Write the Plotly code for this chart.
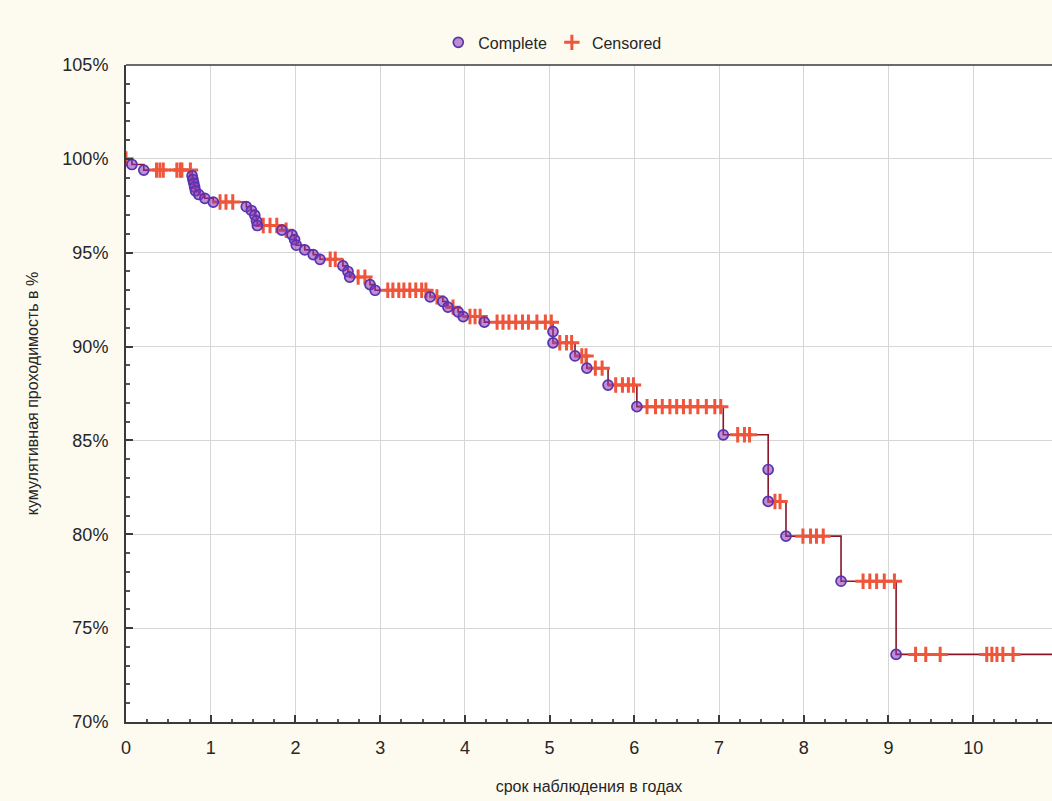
import plotly.graph_objects as go

# Kaplan-Meier estimate: times of observed failures (years) and survival after each one (%)
event_times = [0.07, 0.21, 0.78, 0.79, 0.80, 0.81, 0.82, 0.86, 0.93, 1.03,
               1.42, 1.48, 1.52, 1.54, 1.55, 1.84, 1.96, 1.99, 2.01, 2.11,
               2.21, 2.29, 2.56, 2.62, 2.64, 2.88, 2.94, 3.59, 3.74, 3.80,
               3.92, 3.98, 4.23, 5.04, 5.04, 5.30, 5.44, 5.69, 6.03, 7.05,
               7.58, 7.58, 7.79, 8.44, 9.09]
event_surv = [99.7, 99.4, 99.1, 98.9, 98.7, 98.5, 98.3, 98.1, 97.9, 97.7,
              97.45, 97.25, 97.0, 96.7, 96.45, 96.2, 95.95, 95.7, 95.4, 95.15,
              94.9, 94.65, 94.3, 94.0, 93.7, 93.3, 93.0, 92.65, 92.4, 92.1,
              91.85, 91.6, 91.3, 90.8, 90.2, 89.5, 88.85, 87.95, 86.8, 85.3,
              83.45, 81.75, 79.9, 77.5, 73.6]

# Censored observations (years)
censored_times = [0.0, 0.36, 0.40, 0.44, 0.60, 0.64, 0.66, 0.76,
                  1.11, 1.18, 1.26, 1.62, 1.70, 1.78, 1.89,
                  2.41, 2.47, 2.74, 2.82,
                  3.09, 3.15, 3.22, 3.28, 3.35, 3.42, 3.49, 3.54, 3.67, 3.86,
                  4.06, 4.12, 4.18, 4.38, 4.45, 4.52, 4.60, 4.68, 4.75, 4.85, 4.95, 5.02,
                  5.12, 5.20, 5.26, 5.38, 5.43, 5.54, 5.62,
                  5.78, 5.86, 5.93, 5.99,
                  6.15, 6.25, 6.33, 6.42, 6.50, 6.58, 6.66, 6.75, 6.85, 6.95, 7.02,
                  7.22, 7.30, 7.36, 7.66, 7.72,
                  7.99, 8.08, 8.15, 8.23,
                  8.70, 8.78, 8.86, 8.95, 9.07,
                  9.32, 9.44, 9.61,
                  10.16, 10.22, 10.28, 10.35, 10.47]

x_ticks = list(range(0, 11))
y_ticks = [70, 75, 80, 85, 90, 95, 100, 105]
x_title = "срок наблюдения в годах"
y_title = "кумулятивная проходимость в %"

X_MAX = 10.93


def surv_at(t):
    """Survival level of the step function at time t."""
    level = 100.0
    for et, s in zip(event_times, event_surv):
        if et <= t:
            level = s
    return level


cens_surv = [surv_at(t) for t in censored_times]

step_x = [0.0] + event_times + [X_MAX]
step_y = [100.0] + event_surv + [event_surv[-1]]

fig = go.Figure()

fig.add_trace(go.Scatter(
    x=step_x, y=step_y, mode="lines", line_shape="hv",
    line=dict(color="#8a1428", width=1.6),
    showlegend=False, hoverinfo="skip",
))

fig.add_trace(go.Scatter(
    x=censored_times, y=cens_surv, mode="markers", name="Censored",
    marker=dict(symbol="cross-thin-open", size=11,
                line=dict(color="#ff0000", width=3)),
))

fig.add_trace(go.Scatter(
    x=event_times, y=event_surv, mode="markers", name="Complete",
    marker=dict(symbol="circle", size=10,
                color="rgba(140,50,175,0.55)",
                line=dict(color="#5535b0", width=1.7)),
))

text_col = "#262626"
font = "Arial, Liberation Sans, sans-serif"

fig.update_layout(
    width=1052, height=801,
    margin=dict(l=126, r=0, t=65, b=79, autoexpand=False),
    paper_bgcolor="#fdfaf0",
    plot_bgcolor="#ffffff",
    font=dict(family=font, color=text_col, size=16),
    showlegend=True,
    legend=dict(
        orientation="h", traceorder="reversed",
        xref="container", yref="container",
        x=0.525, xanchor="center", y=0.947, yanchor="middle",
        font=dict(size=16, color=text_col), bgcolor="rgba(0,0,0,0)",
        itemwidth=30,
    ),
    xaxis=dict(
        range=[0, X_MAX], tickvals=x_ticks, ticktext=[str(v) for v in x_ticks],
        showgrid=True, gridcolor="#d6d6d6", gridwidth=1,
        showline=True, linecolor="#3a3a3a", linewidth=2,
        ticks="inside", ticklen=7, tickwidth=1.5, tickcolor="#3a3a3a",
        minor=dict(dtick=0.25, tick0=0, ticks="inside", ticklen=3,
                   tickcolor="#555555", showgrid=False),
        tickfont=dict(size=18, color=text_col),
        ticklabelstandoff=8,
        title=dict(text=x_title, font=dict(size=16, color=text_col), standoff=24),
        zeroline=False,
    ),
    yaxis=dict(
        range=[70, 105], tickvals=y_ticks, ticktext=[f"{v}%" for v in y_ticks],
        showgrid=True, gridcolor="#d6d6d6", gridwidth=1,
        showline=True, linecolor="#3a3a3a", linewidth=2,
        ticks="inside", ticklen=7, tickwidth=1.5, tickcolor="#3a3a3a",
        minor=dict(dtick=1, tick0=70, ticks="inside", ticklen=4,
                   tickcolor="#555555", showgrid=False),
        tickfont=dict(size=18, color=text_col),
        ticklabelstandoff=12,
        title=dict(text=y_title, font=dict(size=16, color=text_col), standoff=20),
        zeroline=False,
    ),
)

# top frame line
fig.add_shape(type="line", xref="paper", yref="paper", x0=0, x1=1, y0=1, y1=1,
              line=dict(color="#3a3a3a", width=1.5))

fig.write_html("out.html")
